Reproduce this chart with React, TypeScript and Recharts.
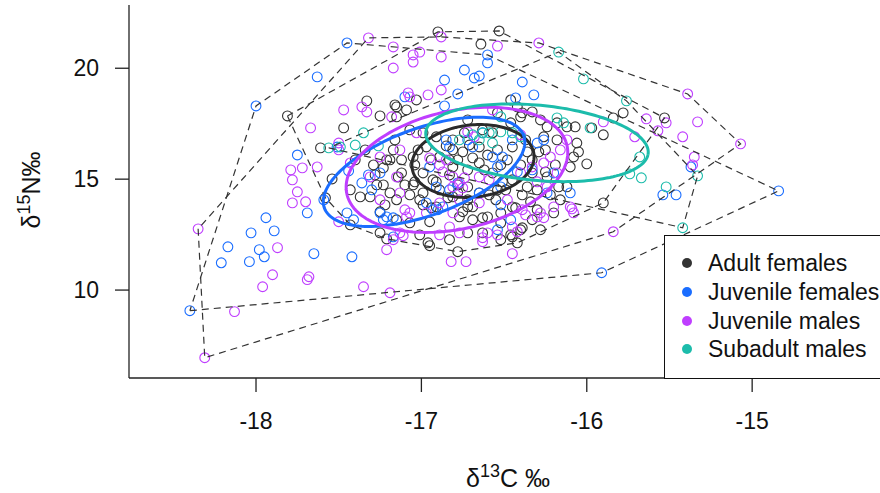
import React from 'react';
import { ScatterChart, Scatter, XAxis, YAxis } from 'recharts';

const FONT = '"Liberation Sans", Arial, Helvetica, sans-serif';

const xTicks = [-18, -17, -16, -15];
const yTicks = [10, 15, 20];
const xDomain: [number, number] = [-18.768, -14.227];
const yDomain: [number, number] = [6.036, 22.851];

const groupNames = ['Adult females', 'Juvenile females', 'Juvenile males', 'Subadult males'];
const groupColors = ['#333333', '#1a6dff', '#bf3eff', '#1cbcab'];

// δ13C, δ15N values per group
const adultFemales: [number, number][] = [
  [-17.81, 17.85], [-16.90, 21.64], [-16.53, 21.68], [-16.64, 21.09], [-17.33, 18.53], [-17.25, 17.85], [-17.47, 17.31], [-17.15, 18.26], [-17.09, 18.12], [-17.03, 18.57],
  [-17.61, 16.41], [-17.17, 16.32], [-17.21, 15.87], [-17.05, 16.00], [-17.12, 15.28], [-17.29, 15.64], [-17.23, 14.74], [-17.31, 14.20], [-17.37, 14.20], [-17.19, 14.38],
  [-17.15, 14.07], [-17.22, 13.84], [-17.58, 14.16], [-17.25, 12.58], [-16.96, 12.13], [-16.91, 16.91], [-16.81, 16.77], [-16.74, 17.09], [-16.63, 17.22], [-16.57, 17.09],
  [-16.46, 17.54], [-16.40, 17.81], [-16.33, 18.03], [-16.28, 17.67], [-16.24, 17.36], [-16.18, 17.54], [-16.12, 17.36], [-16.26, 16.91], [-16.18, 16.77], [-16.46, 18.57],
  [-16.54, 17.99], [-16.72, 17.67], [-16.99, 17.09], [-16.89, 16.00], [-16.81, 15.55], [-16.72, 15.42], [-16.65, 15.73], [-16.57, 15.28], [-16.48, 15.87], [-16.45, 14.97],
  [-16.72, 14.65], [-16.65, 14.38], [-16.54, 14.52], [-16.93, 14.97], [-16.99, 15.28], [-17.05, 14.74], [-16.81, 14.20], [-16.72, 13.75], [-16.33, 15.87], [-16.33, 15.28],
  [-16.36, 14.65], [-16.24, 15.10], [-16.12, 14.65], [-16.16, 14.07], [-16.30, 13.62], [-16.45, 13.75], [-16.52, 13.48], [-16.60, 13.30], [-16.69, 13.17], [-16.77, 13.30],
  [-16.91, 13.75], [-17.01, 14.07], [-17.07, 13.03], [-17.15, 13.17], [-16.40, 12.72], [-16.33, 13.17], [-16.20, 13.48], [-16.06, 16.63], [-16.08, 16.00], [-16.10, 15.55],
  [-16.65, 16.45], [-16.54, 16.32], [-16.45, 16.45], [-16.81, 16.32], [-16.97, 16.45], [-16.85, 16.50], [-17.02, 16.32], [-16.78, 15.87], [-16.69, 15.96], [-16.60, 16.09],
  [-16.52, 15.64], [-16.51, 14.88], [-16.39, 14.29], [-16.34, 13.98], [-16.43, 13.71], [-16.30, 14.52], [-17.14, 15.10], [-17.07, 14.29], [-16.99, 14.38], [-16.99, 13.84],
  [-16.94, 13.71], [-16.78, 14.38], [-16.72, 14.07], [-16.69, 13.75], [-16.59, 14.29], [-16.75, 13.53], [-16.63, 13.26], [-16.52, 13.03], [-16.46, 12.49], [-16.39, 12.81],
  [-16.72, 12.58], [-16.84, 14.16], [-16.78, 14.74], [-17.04, 14.88], [-17.12, 15.87], [-16.83, 15.87], [-16.91, 14.88], [-16.36, 16.23], [-16.29, 16.23], [-17.19, 15.87],
  [-16.95, 13.08], [-16.95, 12.00], [-16.78, 11.73], [-16.42, 12.13], [-16.45, 12.40], [-17.21, 12.31], [-16.63, 12.58], [-15.78, 17.99], [-15.84, 17.76], [-15.53, 17.76],
  [-15.90, 17.00], [-16.05, 16.23], [-16.00, 15.69], [-15.90, 13.93], [-15.97, 17.31], [-16.07, 17.36], [-16.17, 14.65], [-16.25, 15.33], [-17.16, 18.35], [-16.42, 18.26],
  [-16.39, 17.99], [-17.15, 17.81], [-17.54, 15.01], [-17.27, 14.74], [-17.23, 15.51], [-17.25, 13.53], [-17.43, 12.94],
  [-16.83, 15.19], [-16.75, 16.23], [-16.71, 16.54], [-16.62, 15.42], [-16.55, 14.07], [-16.49, 14.52], [-16.40, 15.64], [-16.37, 16.77], [-16.89, 14.52], [-16.94, 15.87],
  [-17.04, 15.64], [-17.10, 14.74], [-17.16, 16.77], [-17.07, 17.22], [-16.25, 16.32], [-16.22, 14.29], [-16.19, 15.64], [-16.28, 12.72], [-16.52, 12.27], [-16.83, 12.27],
  [-17.01, 12.49], [-17.28, 15.19], [-17.34, 16.32], [-17.40, 15.87], [-17.43, 14.52],
];

const juvenileFemales: [number, number][] = [
  [-18.40, 9.07], [-18.00, 18.30], [-17.45, 21.14], [-17.63, 19.61], [-16.74, 19.92], [-16.86, 19.47], [-16.68, 19.56], [-16.65, 19.65], [-16.60, 20.60], [-16.60, 20.24],
  [-16.39, 19.38], [-16.32, 18.80], [-16.78, 18.84], [-16.43, 18.66], [-17.10, 18.71], [-16.86, 18.30], [-17.75, 16.09], [-17.59, 14.07], [-17.36, 14.83], [-17.32, 15.19],
  [-17.25, 15.28], [-17.30, 14.52], [-17.69, 13.48], [-17.45, 13.48], [-17.25, 13.48], [-17.21, 13.30], [-17.17, 13.26], [-17.23, 13.17], [-17.41, 13.17], [-16.97, 13.93],
  [-16.93, 13.62], [-16.90, 13.62], [-16.65, 14.38], [-16.52, 14.65], [-16.85, 16.77], [-16.83, 16.45], [-16.69, 16.45], [-16.63, 17.09], [-16.45, 16.77], [-16.54, 15.55],
  [-16.57, 16.00], [-16.95, 15.55], [-16.83, 14.52], [-16.30, 16.63], [-16.26, 16.77], [-16.20, 15.28], [-16.91, 14.65], [-16.10, 14.38], [-16.24, 14.38], [-16.46, 13.17],
  [-16.54, 12.72], [-16.87, 13.75], [-16.72, 16.77], [-17.51, 16.45], [-17.94, 13.26], [-17.89, 12.67], [-18.03, 12.58], [-17.98, 11.82], [-17.95, 11.50], [-18.04, 11.28],
  [-17.65, 11.64], [-17.42, 11.50], [-17.44, 15.37], [-18.17, 11.95], [-18.21, 11.23], [-17.17, 12.40], [-15.91, 10.78], [-14.84, 14.47], [-15.37, 15.55], [-15.54, 14.29],
  [-15.46, 14.29], [-16.78, 14.83], [-16.51, 16.00], [-16.42, 15.33], [-16.52, 13.84], [-16.33, 15.42],
];

const juvenileMales: [number, number][] = [
  [-18.31, 6.95], [-18.35, 12.76], [-18.13, 9.03], [-17.96, 10.15], [-17.90, 10.69], [-17.87, 11.91], [-17.78, 14.97], [-17.75, 14.43], [-17.78, 13.93], [-17.72, 15.51],
  [-17.63, 15.55], [-17.70, 13.98], [-17.50, 13.08], [-17.43, 15.73], [-17.25, 16.00], [-17.21, 11.82], [-17.68, 10.60], [-17.69, 10.47], [-17.35, 10.15], [-17.19, 9.88],
  [-17.17, 12.27], [-17.11, 12.45], [-16.82, 11.28], [-16.73, 11.28], [-16.45, 11.64], [-16.42, 12.63], [-16.63, 12.36], [-16.63, 12.18], [-16.54, 12.49], [-16.77, 12.58],
  [-16.83, 12.85], [-16.89, 12.49], [-16.37, 13.39], [-16.30, 13.30], [-17.10, 13.62], [-17.07, 13.48], [-16.89, 13.93], [-16.81, 13.48], [-16.95, 15.96], [-16.89, 15.64],
  [-16.87, 15.33], [-16.81, 14.65], [-16.75, 14.61], [-16.74, 15.06], [-17.15, 15.10], [-16.30, 14.88], [-17.13, 16.32], [-17.32, 21.37], [-17.17, 20.96], [-17.05, 20.60],
  [-17.05, 20.28], [-17.01, 20.73], [-16.88, 20.51], [-16.88, 21.41], [-16.54, 21.00], [-16.29, 21.14], [-17.17, 20.01], [-16.96, 18.80], [-17.07, 18.71], [-16.57, 18.12],
  [-17.36, 18.26], [-17.33, 18.03], [-17.67, 17.31], [-17.50, 16.63], [-16.88, 19.02], [-16.40, 17.00], [-16.72, 17.13], [-16.68, 16.91], [-16.85, 15.87], [-16.81, 15.10],
  [-16.77, 14.83], [-16.65, 15.10], [-16.59, 14.97], [-17.31, 15.10], [-17.25, 14.07], [-17.13, 14.38], [-16.40, 15.28], [-16.33, 15.55], [-16.26, 15.73], [-16.22, 16.00],
  [-16.16, 16.32], [-16.12, 16.77], [-16.18, 15.28], [-16.24, 14.65], [-16.20, 13.75], [-16.28, 13.48], [-16.39, 13.62], [-16.48, 14.07], [-16.65, 13.93], [-16.77, 14.07],
  [-16.97, 13.48], [-17.09, 13.30], [-16.60, 12.58], [-16.45, 12.85], [-17.13, 12.58], [-16.08, 13.48], [-16.10, 13.75], [-17.79, 15.42], [-17.47, 18.12], [-17.50, 16.32],
  [-17.08, 18.89], [-17.18, 17.81], [-17.03, 17.09], [-15.39, 18.84], [-15.07, 16.59], [-15.64, 17.72], [-15.52, 17.54], [-15.33, 17.58], [-15.42, 16.91], [-15.57, 17.18],
  [-15.71, 16.91], [-15.90, 17.58], [-15.35, 16.00], [-15.36, 15.64], [-15.84, 12.63], [-16.09, 13.66], [-16.26, 13.26],
];

const subadultMales: [number, number][] = [
  [-16.17, 20.73], [-16.02, 19.52], [-15.76, 18.53], [-15.98, 17.31], [-15.68, 16.00], [-15.74, 15.24], [-15.67, 15.06], [-15.52, 14.65], [-15.33, 15.15], [-15.42, 12.81],
  [-17.56, 16.41], [-17.49, 16.45], [-17.40, 16.54], [-17.35, 17.09], [-17.26, 16.50], [-16.69, 17.00], [-16.63, 17.09], [-16.59, 17.09], [-16.52, 17.13], [-16.45, 17.09],
  [-16.40, 16.91], [-16.65, 16.77], [-16.57, 16.63], [-16.77, 16.77], [-16.18, 17.76], [-16.14, 17.54], [-16.52, 17.81],
];

// standard ellipses: centre and two conjugate semi-axis vectors (data units)
const ellipseCentres: [number, number][] = [[-16.688, 15.82], [-16.984, 15.33], [-16.785, 15.42], [-16.301, 16.64]];
const ellipseAxisU: [number, number][] = [[0.369, 0.27], [0.605, 1.577], [0.659, 1.261], [0.671, -0.541]];
const ellipseAxisV: [number, number][] = [[-0.018, 1.62], [-0.073, 1.892], [-0.121, 2.523], [0.048, 1.667]];

const groups = [adultFemales, juvenileFemales, juvenileMales, subadultMales];

type P = { x: number; y: number };
const toPts = (arr: [number, number][]): P[] => arr.map(([x, y]) => ({ x, y }));

function convexHull(points: P[]): P[] {
  const p = [...points].sort((a, b) => a.x - b.x || a.y - b.y);
  const cross = (o: P, a: P, b: P) => (a.x - o.x) * (b.y - o.y) - (a.y - o.y) * (b.x - o.x);
  const lower: P[] = [];
  for (const q of p) {
    while (lower.length >= 2 && cross(lower[lower.length - 2], lower[lower.length - 1], q) <= 0) lower.pop();
    lower.push(q);
  }
  const upper: P[] = [];
  for (let i = p.length - 1; i >= 0; i--) {
    const q = p[i];
    while (upper.length >= 2 && cross(upper[upper.length - 2], upper[upper.length - 1], q) <= 0) upper.pop();
    upper.push(q);
  }
  upper.pop();
  lower.pop();
  const h = lower.concat(upper);
  h.push(h[0]);
  return h;
}

function ellipseOutline(i: number, n = 160): P[] {
  const [cx, cy] = ellipseCentres[i];
  const [ux, uy] = ellipseAxisU[i];
  const [vx, vy] = ellipseAxisV[i];
  const out: P[] = [];
  for (let k = 0; k <= n; k++) {
    const t = (2 * Math.PI * k) / n;
    out.push({ x: cx + ux * Math.cos(t) + vx * Math.sin(t), y: cy + uy * Math.cos(t) + vy * Math.sin(t) });
  }
  return out;
}

const makeCircle = (color: string) => (props: any) => (
  <circle cx={props.cx} cy={props.cy} r={4.9} fill="none" stroke={color} strokeWidth={1.1} />
);
const noShape = () => <g />;

export default function App() {
  const axisStroke = { stroke: '#222', strokeWidth: 1.3 };
  const tickStyle = { fontSize: 23, fill: '#111', fontFamily: FONT };
  return (
    <div style={{ position: 'absolute', left: 0, top: 0, width: 880, height: 493, overflow: 'hidden', background: '#fff' }}>
      <ScatterChart width={880} height={493} margin={{ top: 5, right: 0, bottom: 0, left: 0 }}>
        <XAxis
          type="number"
          dataKey="x"
          domain={xDomain}
          ticks={xTicks}
          allowDataOverflow
          height={115}
          tickSize={14}
          tickMargin={21}
          tick={tickStyle}
          tickLine={axisStroke}
          axisLine={axisStroke}
        />
        <YAxis
          type="number"
          dataKey="y"
          domain={yDomain}
          ticks={yTicks}
          allowDataOverflow
          width={129}
          tickSize={14}
          tickMargin={16}
          tick={tickStyle}
          tickLine={axisStroke}
          axisLine={axisStroke}
        />
        {groups.map((g, i) => (
          <Scatter
            key={'pts' + i}
            name={groupNames[i]}
            data={toPts(g)}
            shape={makeCircle(groupColors[i])}
            isAnimationActive={false}
          />
        ))}
        {groups.map((g, i) => (
          <Scatter
            key={'hull' + i}
            data={convexHull(toPts(g))}
            line={{ stroke: '#333', strokeWidth: 1.2, strokeDasharray: '7 5' }}
            lineType="joint"
            shape={noShape}
            legendType="none"
            isAnimationActive={false}
          />
        ))}
        {groups.map((_, i) => (
          <Scatter
            key={'ell' + i}
            data={ellipseOutline(i)}
            line={{ stroke: i === 0 ? '#2a2a2a' : groupColors[i], strokeWidth: 3 }}
            lineType="joint"
            shape={noShape}
            legendType="none"
            isAnimationActive={false}
          />
        ))}
      </ScatterChart>
      <svg width={880} height={493} style={{ position: 'absolute', left: 0, top: 0, pointerEvents: 'none' }}>
        <text x={508} y={487} textAnchor="middle" fontFamily={FONT} fontSize={25} fill="#111">
          δ<tspan dy={-10} fontSize={18}>13</tspan>
          <tspan dy={10}>C ‰</tspan>
        </text>
        <text transform="rotate(-90)" x={-190} y={40} textAnchor="middle" fontFamily={FONT} fontSize={25} fill="#111">
          δ<tspan dy={-10} fontSize={18}>15</tspan>
          <tspan dy={10}>N‰</tspan>
        </text>
      </svg>
      <div
        style={{
          position: 'absolute',
          left: 664,
          top: 235,
          width: 260,
          height: 144,
          boxSizing: 'border-box',
          border: '1.3px solid #111',
          background: '#fff',
          fontFamily: FONT,
          fontSize: 23,
          color: '#111',
        }}
      >
        {groupNames.map((name, i) => (
          <div key={name} style={{ position: 'absolute', left: 0, top: 27.3 + i * 28.6 - 14, height: 28, width: 250 }}>
            <div
              style={{
                position: 'absolute',
                left: 16.7,
                top: 9,
                width: 10,
                height: 10,
                borderRadius: 5,
                background: groupColors[i],
              }}
            />
            <div style={{ position: 'absolute', left: 43, top: 0, lineHeight: '28px', whiteSpace: 'nowrap' }}>{name}</div>
          </div>
        ))}
      </div>
    </div>
  );
}
